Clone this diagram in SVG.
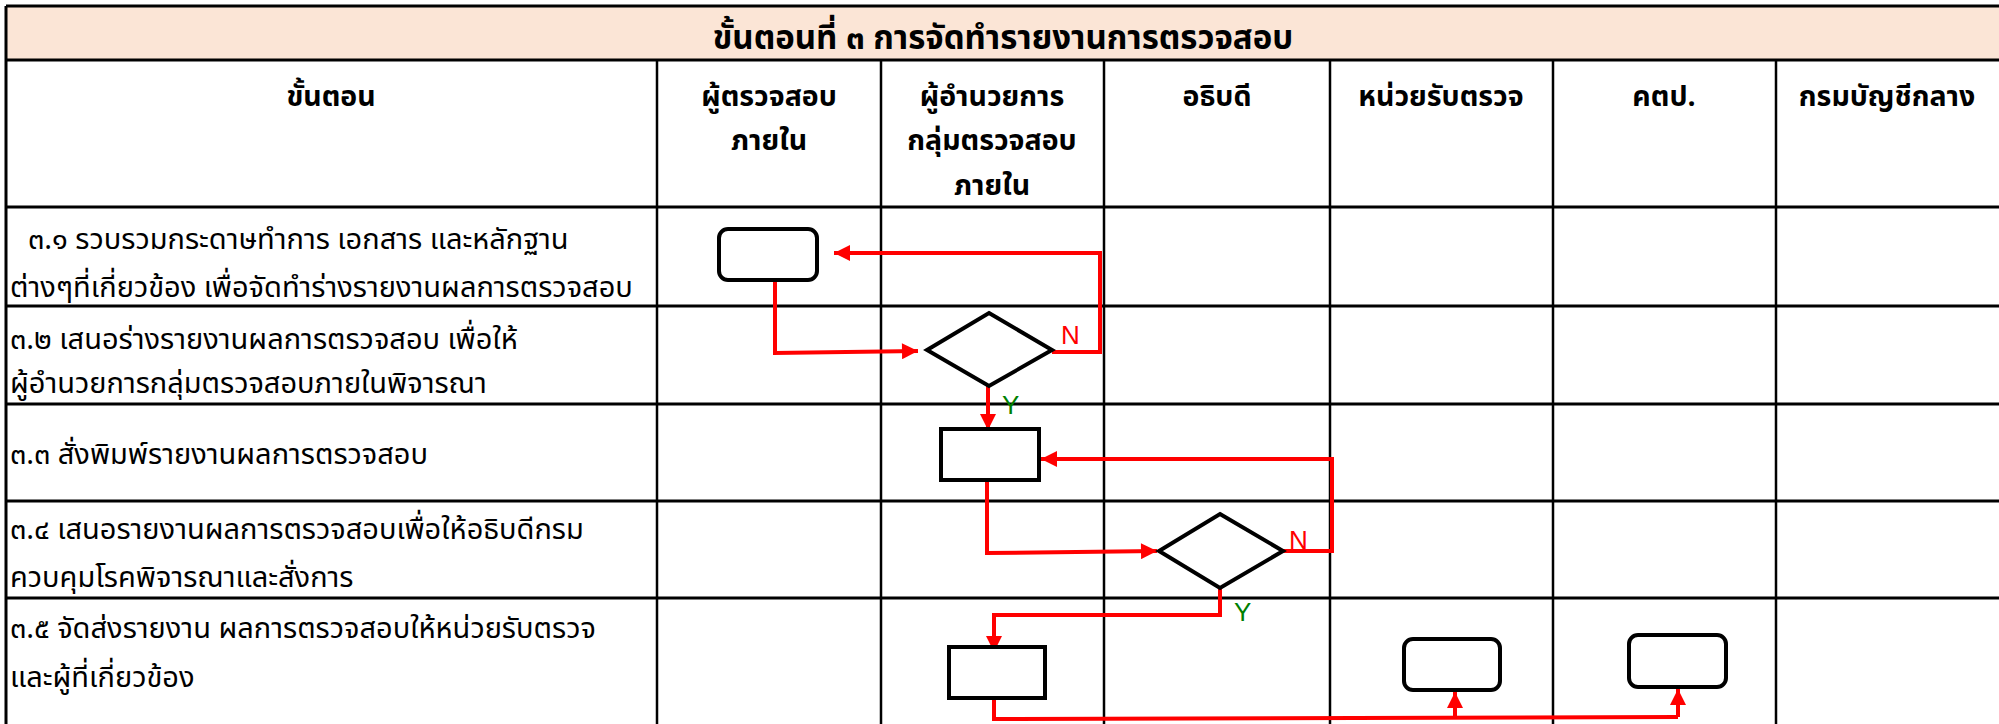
<svg xmlns="http://www.w3.org/2000/svg" width="1999" height="724" viewBox="0 0 1999 724">
<defs>
<style>
.grid{stroke:#000;stroke-width:3;fill:none}
.vgrid{stroke:#000;stroke-width:2.5;fill:none}
.hd{font-family:"Noto Sans Thai","Noto Sans","DejaVu Sans",sans-serif;font-size:28.5px;font-weight:bold;fill:#000;text-anchor:middle}
.tt{font-family:"Noto Sans Thai","Noto Sans","DejaVu Sans",sans-serif;font-size:33px;font-weight:bold;fill:#000;text-anchor:middle}
.bd{font-family:"Noto Sans Thai","Noto Sans","DejaVu Sans",sans-serif;font-size:29px;fill:#000}
.box{fill:#fff;stroke:#000;stroke-width:4}
.conn{fill:none;stroke:#ff0000;stroke-width:4;stroke-linejoin:miter}
.lbn{font-family:"Liberation Sans",Arial,sans-serif;font-size:26px;fill:#ff0000}
.lby{font-family:"Liberation Sans",Arial,sans-serif;font-size:26px;fill:#008000}
</style>
<marker id="ah" viewBox="0 0 10 10" refX="10" refY="5" markerWidth="18" markerHeight="16" markerUnits="userSpaceOnUse" orient="auto">
<path d="M0,0 L10,5 L0,10 z" fill="#ff0000"/>
</marker>
</defs>
<rect width="1999" height="724" fill="#fff"/>
<g id="table">
<rect x="6" y="6" width="1999" height="54" fill="#FBE5D6"/>
<line class="grid" x1="6" y1="6" x2="1999" y2="6"/>
<line class="grid" x1="6" y1="60" x2="1999" y2="60"/>
<line class="grid" x1="6" y1="207" x2="1999" y2="207"/>
<line class="grid" x1="6" y1="306" x2="1999" y2="306"/>
<line class="grid" x1="6" y1="404" x2="1999" y2="404"/>
<line class="grid" x1="6" y1="501" x2="1999" y2="501"/>
<line class="grid" x1="6" y1="598" x2="1999" y2="598"/>
<line class="grid" x1="6" y1="6" x2="6" y2="724"/>
<line class="vgrid" x1="657" y1="60" x2="657" y2="724"/>
<line class="vgrid" x1="881" y1="60" x2="881" y2="724"/>
<line class="vgrid" x1="1104" y1="60" x2="1104" y2="724"/>
<line class="vgrid" x1="1330" y1="60" x2="1330" y2="724"/>
<line class="vgrid" x1="1553" y1="60" x2="1553" y2="724"/>
<line class="vgrid" x1="1776" y1="60" x2="1776" y2="724"/>
<text class="tt" x="1003" y="49">ขั้นตอนที่ ๓ การจัดทำรายงานการตรวจสอบ</text>
<text class="hd" x="331" y="106">ขั้นตอน</text>
<text class="hd" x="769" y="106">ผู้ตรวจสอบ</text>
<text class="hd" x="769" y="150">ภายใน</text>
<text class="hd" x="992" y="106">ผู้อำนวยการ</text>
<text class="hd" x="992" y="150">กลุ่มตรวจสอบ</text>
<text class="hd" x="992" y="195">ภายใน</text>
<text class="hd" x="1217" y="106">อธิบดี</text>
<text class="hd" x="1441" y="106">หน่วยรับตรวจ</text>
<text class="hd" x="1664" y="106">คตป.</text>
<text class="hd" x="1887" y="106">กรมบัญชีกลาง</text>
<text class="bd" x="28" y="249">๓.๑ รวบรวมกระดาษทำการ เอกสาร และหลักฐาน</text>
<text class="bd" x="10" y="297">ต่างๆที่เกี่ยวข้อง เพื่อจัดทำร่างรายงานผลการตรวจสอบ</text>
<text class="bd" x="10" y="349">๓.๒ เสนอร่างรายงานผลการตรวจสอบ เพื่อให้</text>
<text class="bd" x="10" y="393">ผู้อำนวยการกลุ่มตรวจสอบภายในพิจารณา</text>
<text class="bd" x="10" y="464">๓.๓ สั่งพิมพ์รายงานผลการตรวจสอบ</text>
<text class="bd" x="10" y="539">๓.๔ เสนอรายงานผลการตรวจสอบเพื่อให้อธิบดีกรม</text>
<text class="bd" x="10" y="587">ควบคุมโรคพิจารณาและสั่งการ</text>
<text class="bd" x="10" y="638">๓.๕ จัดส่งรายงาน ผลการตรวจสอบให้หน่วยรับตรวจ</text>
<text class="bd" x="10" y="687">และผู้ที่เกี่ยวข้อง</text>
</g>
<g id="connectors">
<polyline class="conn" points="775,280 775,353 918,351" marker-end="url(#ah)"/>
<polyline class="conn" points="1052,352 1100,352 1100,253 834,253" marker-end="url(#ah)"/>
<polyline class="conn" points="988,386 988,430" marker-end="url(#ah)"/>
<polyline class="conn" points="987,480 987,553 1157,551" marker-end="url(#ah)"/>
<polyline class="conn" points="1283,551 1332,551 1332,459 1041,459" marker-end="url(#ah)"/>
<polyline class="conn" points="1220,588 1220,615 994,615 994,652" marker-end="url(#ah)"/>
<polyline class="conn" points="994,698 994,719 1678,717"/>
<polyline class="conn" points="1455,719 1455,692" marker-end="url(#ah)"/>
<polyline class="conn" points="1678,717 1678,689" marker-end="url(#ah)"/>
<text class="lbn" x="1061" y="344">N</text>
<text class="lby" x="1002" y="414">Y</text>
<text class="lbn" x="1289" y="549">N</text>
<text class="lby" x="1234" y="621">Y</text>
</g>
<g id="n1"><rect class="box" x="719" y="229" width="98" height="51" rx="9"/></g>
<g id="d1"><polygon class="box" points="989,313 1052,350 989,386 927,350"/></g>
<g id="n2"><rect class="box" x="941" y="429" width="98" height="51" stroke-width="5"/></g>
<g id="d2"><polygon class="box" points="1220,514 1283,551 1220,588 1159,551"/></g>
<g id="n3"><rect class="box" x="949" y="647" width="96" height="51" stroke-width="5"/></g>
<g id="n4"><rect class="box" x="1404" y="639" width="96" height="51" rx="9"/></g>
<g id="n5"><rect class="box" x="1629" y="635" width="97" height="52" rx="9"/></g>
</svg>
